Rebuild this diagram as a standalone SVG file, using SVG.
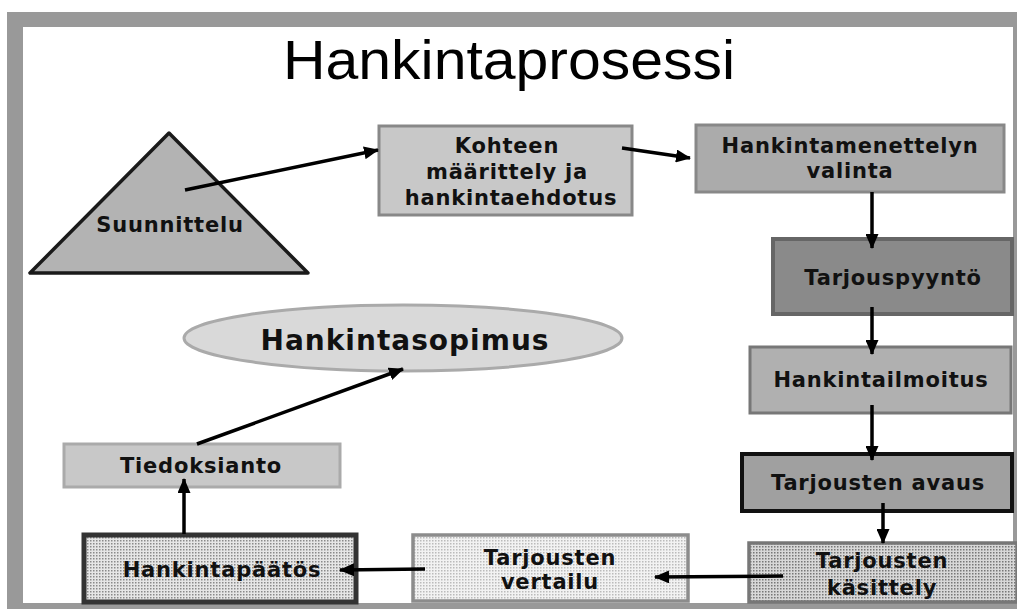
<svg xmlns="http://www.w3.org/2000/svg" width="1017" height="609" viewBox="0 0 1017 609">
<style>
.lbl{font-family:"DejaVu Sans","Liberation Sans",sans-serif;font-weight:bold;font-size:21px;letter-spacing:0.8px;fill:#111;text-anchor:middle}
.title{font-family:"Liberation Sans",Arial,sans-serif;font-size:56px;fill:#000;text-anchor:middle}
.conn line{stroke:#000;stroke-width:3.5;marker-end:url(#ah)}
</style>
<defs>
<marker id="ah" viewBox="0 0 15 13" refX="14" refY="6.5" markerWidth="15" markerHeight="13" markerUnits="userSpaceOnUse" orient="auto">
<path d="M0,0 L15,6.5 L0,13 z" fill="#000"/>
</marker>
<pattern id="dotA" width="3" height="3" patternUnits="userSpaceOnUse">
<rect width="3" height="3" fill="#e6e6e6"/><rect width="1.5" height="1.5" fill="#8a8a8a"/>
</pattern>
<pattern id="dotB" width="3" height="3" patternUnits="userSpaceOnUse">
<rect width="3" height="3" fill="#d8d8d8"/><rect width="1.5" height="1.5" fill="#777"/>
</pattern>
<pattern id="dotC" width="3" height="3" patternUnits="userSpaceOnUse">
<rect width="3" height="3" fill="#f2f2f2"/><rect width="1.5" height="1.5" fill="#bbb"/>
</pattern>
</defs>
<rect x="7" y="12" width="1010" height="597" fill="#999"/>
<rect x="23" y="27" width="990" height="576" fill="#fff"/>
<text class="title" x="509" y="79" textLength="452" lengthAdjust="spacingAndGlyphs">Hankintaprosessi</text>

<g id="suunnittelu">
<polygon points="169,133 30,273 308,273" fill="#b3b3b3" stroke="#1a1a1a" stroke-width="3.5" stroke-linejoin="round"/>
<text class="lbl" x="170" y="232">Suunnittelu</text>
</g>
<g id="kohteen">
<rect x="379" y="126" width="253" height="89" fill="#c8c8c8" stroke="#888" stroke-width="3"/>
<text class="lbl" x="507" y="153">Kohteen</text>
<text class="lbl" x="507" y="179">määrittely ja</text>
<text class="lbl" x="511" y="205">hankintaehdotus</text>
</g>
<g id="menettely">
<rect x="696" y="125" width="308" height="67" fill="#ababab" stroke="#888" stroke-width="3"/>
<text class="lbl" x="850" y="153">Hankintamenettelyn</text>
<text class="lbl" x="850" y="178">valinta</text>
</g>
<g id="tarjouspyynto">
<rect x="773" y="239" width="239" height="75" fill="#8a8a8a" stroke="#666" stroke-width="4"/>
<text class="lbl" x="893" y="285">Tarjouspyyntö</text>
</g>
<g id="hankintailmoitus">
<rect x="750" y="347" width="261" height="66" fill="#b0b0b0" stroke="#777" stroke-width="3"/>
<text class="lbl" x="881" y="387">Hankintailmoitus</text>
</g>
<g id="avaus">
<rect x="742" y="454" width="270" height="57" fill="#a0a0a0" stroke="#111" stroke-width="4"/>
<text class="lbl" x="878" y="490">Tarjousten avaus</text>
</g>
<g id="kasittely">
<rect x="749" y="543" width="268" height="59" fill="url(#dotB)" stroke="#777" stroke-width="3.5"/>
<text class="lbl" x="882" y="568">Tarjousten</text>
<text class="lbl" x="882" y="595">käsittely</text>
</g>
<g id="vertailu">
<rect x="413" y="535" width="275" height="66" fill="url(#dotC)" stroke="#8c8c8c" stroke-width="3.5"/>
<text class="lbl" x="550" y="565">Tarjousten</text>
<text class="lbl" x="550" y="589">vertailu</text>
</g>
<g id="paatos">
<rect x="84" y="535" width="272" height="67" fill="url(#dotA)" stroke="#333" stroke-width="5"/>
<text class="lbl" x="222" y="577">Hankintapäätös</text>
</g>
<g id="tiedoksianto">
<rect x="64" y="444" width="276" height="43" fill="#c8c8c8" stroke="#aaa" stroke-width="3"/>
<text class="lbl" x="201" y="473">Tiedoksianto</text>
</g>
<g id="sopimus">
<ellipse cx="403" cy="338" rx="219" ry="33" fill="#d9d9d9" stroke="#aaa" stroke-width="3"/>
<text class="lbl" x="405" y="350" style="font-size:28px;letter-spacing:1px">Hankintasopimus</text>
</g>

<g id="connectors" class="conn">
<line x1="185" y1="190" x2="378" y2="150"/>
<line x1="622" y1="148" x2="690" y2="158"/>
<line x1="872" y1="192" x2="872" y2="248"/>
<line x1="872" y1="307" x2="872" y2="354"/>
<line x1="872" y1="405" x2="872" y2="460"/>
<line x1="883" y1="503" x2="883" y2="543"/>
<line x1="783" y1="576" x2="655" y2="577"/>
<line x1="425" y1="569" x2="340" y2="570"/>
<line x1="184" y1="534" x2="184" y2="479"/>
<line x1="197" y1="444" x2="403" y2="369"/>
</g>
</svg>
